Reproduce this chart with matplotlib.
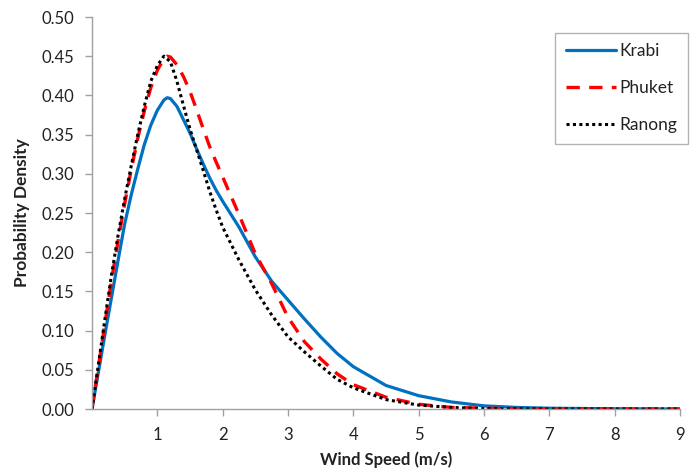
import matplotlib
matplotlib.use("Agg")
import matplotlib.pyplot as plt

# Values (wind speed in m/s, probability density)
krabi_x = [0, 0.1, 0.2, 0.3, 0.4, 0.5, 0.6, 0.7, 0.8, 0.9, 1.0, 1.1, 1.15, 1.2, 1.3, 1.4, 1.5,
           1.6, 1.7, 1.8, 1.9, 2.0, 2.25, 2.5, 2.75, 3.0, 3.25, 3.5, 3.75, 4.0, 4.5, 5.0, 5.5,
           6.0, 6.5, 7.0, 8.0, 9.0]
krabi_y = [0, 0.048, 0.096, 0.143, 0.190, 0.236, 0.273, 0.306, 0.337, 0.362, 0.381, 0.394,
           0.397, 0.396, 0.386, 0.369, 0.352, 0.332, 0.313, 0.295, 0.279, 0.265, 0.232, 0.194,
           0.163, 0.139, 0.115, 0.092, 0.071, 0.054, 0.030, 0.017, 0.009, 0.004, 0.002, 0.001,
           0.0003, 0.0]

phuket_x = [0, 0.1, 0.2, 0.3, 0.4, 0.5, 0.6, 0.7, 0.8, 0.9, 1.0, 1.1, 1.15, 1.2, 1.3, 1.4, 1.5,
            1.6, 1.7, 1.8, 1.9, 2.0, 2.25, 2.5, 2.75, 3.0, 3.25, 3.5, 3.75, 4.0, 4.5, 5.0, 5.5,
            6.0, 7.0, 8.0, 9.0]
phuket_y = [0, 0.055, 0.110, 0.165, 0.215, 0.262, 0.305, 0.345, 0.380, 0.410, 0.432, 0.447,
            0.450, 0.449, 0.439, 0.424, 0.405, 0.382, 0.358, 0.335, 0.315, 0.296, 0.248, 0.198,
            0.160, 0.117, 0.086, 0.064, 0.045, 0.031, 0.015, 0.006, 0.002, 0.001, 0.0, 0.0, 0.0]

ranong_x = [0, 0.1, 0.2, 0.3, 0.4, 0.5, 0.6, 0.7, 0.8, 0.9, 1.0, 1.1, 1.2, 1.3, 1.4, 1.5, 1.6,
            1.7, 1.8, 1.9, 2.0, 2.25, 2.5, 2.75, 3.0, 3.25, 3.5, 3.75, 4.0, 4.5, 5.0, 5.5, 6.0,
            7.0, 8.0, 9.0]
ranong_y = [0, 0.058, 0.116, 0.172, 0.222, 0.268, 0.310, 0.350, 0.386, 0.418, 0.438, 0.450,
            0.443, 0.418, 0.387, 0.357, 0.331, 0.305, 0.278, 0.254, 0.232, 0.190, 0.152, 0.120,
            0.092, 0.073, 0.055, 0.038, 0.027, 0.012, 0.005, 0.002, 0.0005, 0.0, 0.0, 0.0]

x_ticks = [1, 2, 3, 4, 5, 6, 7, 8, 9]
y_ticks = [0.00, 0.05, 0.10, 0.15, 0.20, 0.25, 0.30, 0.35, 0.40, 0.45, 0.50]

plt.rcParams['font.family'] = ['Lato', 'DejaVu Sans']

fig = plt.figure(figsize=(6.96, 4.75), dpi=100)
ax = fig.add_axes([92/696, 1 - 409/475, (680 - 92)/696, (409 - 17)/475])

ax.plot(krabi_x, krabi_y, color='#0070C0', lw=2.3, label='Krabi',
        solid_capstyle='round', solid_joinstyle='round')
ax.plot(phuket_x, phuket_y, color='#FF0000', lw=2.4, dashes=(4, 2.8), label='Phuket')
ax.plot(ranong_x, ranong_y, color='black', lw=2.2, dashes=(1, 1.1), dash_capstyle='butt',
        label='Ranong')

ax.set_xlim(0, 9)
ax.set_ylim(0, 0.5)
ax.set_xticks(x_ticks)
ax.set_xticklabels([str(t) for t in x_ticks])
ax.set_yticks(y_ticks)
ax.set_yticklabels([f"{t:.2f}" for t in y_ticks])
for s in ['top', 'right']:
    ax.spines[s].set_visible(False)
for s in ['left', 'bottom']:
    ax.spines[s].set_color('#A0A0A0')
    ax.spines[s].set_linewidth(1.0)
ax.tick_params(axis='both', colors='#A0A0A0', labelcolor='#222222', labelsize=12,
               length=5, width=1.0, direction='out')
ax.tick_params(axis='x', pad=8)
ax.tick_params(axis='y', pad=8)

ax.set_xlabel('Wind Speed (m/s)', fontsize=12, fontweight='bold', color='#222222', labelpad=6)
ax.set_ylabel('Probability Density', fontsize=12.5, fontweight='bold', color='#222222',
              labelpad=8)

leg = fig.legend(loc='upper right', bbox_to_anchor=(688/696, 1 - 33/475), fontsize=12.5,
                 frameon=True, fancybox=False, edgecolor='#A0A0A0', handlelength=2.9,
                 handletextpad=0.2, labelspacing=1.2, borderpad=0.6, borderaxespad=0)
leg.get_frame().set_linewidth(1.0)
for t in leg.get_texts():
    t.set_color('#222222')

fig.savefig('out.png', dpi=100)
